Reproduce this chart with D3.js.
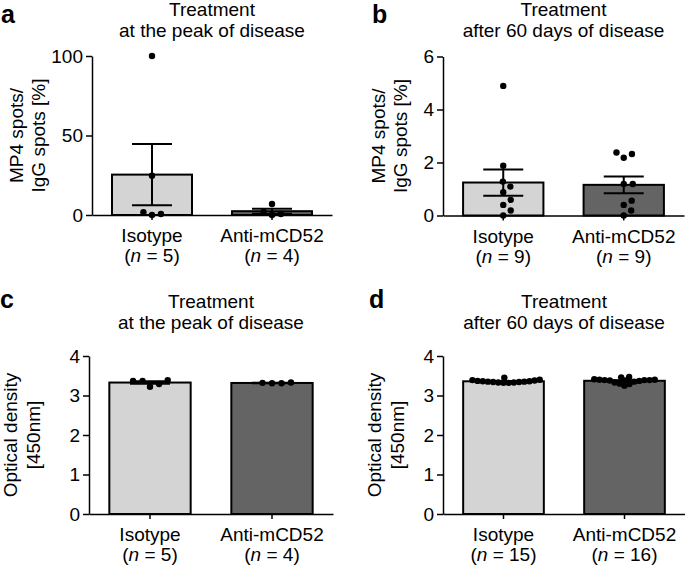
<!DOCTYPE html>
<html>
<head>
<meta charset="utf-8">
<script src="https://cdn.jsdelivr.net/npm/d3@7"></script>
<style>
    body { margin: 0; background: #fff; }
    svg { display: block; font-family: "Liberation Sans", Arial, sans-serif; }
</style>
</head>
<body>
<svg id="fig" width="685" height="568"></svg>
<script>
// groups and values
var groups = ["Isotype", "Anti-mCD52"];
var titleTop = "Treatment";
var titlePeak = "at the peak of disease";
var titleLate = "after 60 days of disease";
var spotsLabel = ["MP4 spots/", "IgG spots [%]"];
var odLabel = ["Optical density", "[450nm]"];

var spotsPeakIsotype = [100, 24.7, 1.7, 0, 0.6];
var spotsPeakAnti = [6.9, 2.1, 0, 0.6];
var spotsLateIsotype = [4.89, 1.88, 1.28, 1.09, 0.88, 0.59, 0.40, 0.19, 0];
var spotsLateAnti = [2.32, 2.18, 2.38, 1.19, 1.19, 0.56, 0.40, 0.19, 0];
var odPeakIsotype = [3.39, 3.37, 3.22, 3.29, 3.37];
var odPeakAnti = [3.32, 3.31, 3.31, 3.33];
var odLateIsotype = [3.45, 3.39, 3.37, 3.36, 3.35, 3.34, 3.33, 3.32, 3.32, 3.33, 3.34, 3.35, 3.36, 3.38, 3.40];
var odLateAnti = [3.40, 3.39, 3.39, 3.38, 3.37, 3.33, 3.29, 3.46, 3.25, 3.47, 3.30, 3.35, 3.38, 3.39, 3.40, 3.41];

var spotsPeakTicks = [0, 50, 100];
var spotsLateTicks = [0, 2, 4, 6];
var odTicks = [0, 1, 2, 3, 4];

var barColors = ["#d4d4d4", "#646464"];
var FONT = 19;
var svg = d3.select("#fig");

// simple beeswarm: lowest values at the centre, the rest pushed sideways
function swarm(values, y, dist) {
    var order = d3.range(values.length).sort(function (i, j) { return values[i] - values[j]; });
    var placed = [], xs = [];
    order.forEach(function (i) {
        var py = y(values[i]);
        var cands = [0];
        placed.forEach(function (p) {
            var dy = Math.abs(p.y - py);
            if (dy < dist) {
                var dx = Math.sqrt(dist * dist - dy * dy);
                cands.push(p.x + dx, p.x - dx);
            }
        });
        cands.sort(function (a, b) { return Math.abs(a) - Math.abs(b) || b - a; });
        var x = cands.find(function (c) {
            return placed.every(function (p) {
                return (p.x - c) * (p.x - c) + (p.y - py) * (p.y - py) >= dist * dist - 0.01;
            });
        });
        placed.push({x: x, y: py});
        xs[i] = x;
    });
    return xs;
}

function drawPanel(p) {
    var g = svg.append("g");

    var x = d3.scaleBand().domain(groups).range([p.x0, p.x1])
        .paddingInner(1 / 3).paddingOuter(1 / 6);
    var y = d3.scaleLinear().domain([0, p.max]).range([p.yBottom, p.yTop]);

    // panel letter and title
    g.append("text").attr("x", p.letterX).attr("y", p.letterY)
        .attr("font-size", 25).attr("font-weight", "bold").text(p.letter);

    var cx = (x(groups[0]) + x(groups[1]) + x.bandwidth()) / 2;
    g.append("text").attr("x", cx).attr("y", p.titleY).attr("text-anchor", "middle")
        .attr("font-size", FONT).text(titleTop);
    g.append("text").attr("x", cx).attr("y", p.titleY + 21).attr("text-anchor", "middle")
        .attr("font-size", FONT).text(p.title);

    // y label, two rotated lines
    var midY = (p.yTop + p.yBottom) / 2;
    p.ylabel.forEach(function (line, i) {
        g.append("text")
            .attr("transform", "translate(" + p.ylabX[i] + "," + midY + ") rotate(-90)")
            .attr("text-anchor", "middle").attr("font-size", FONT).text(line);
    });

    // bars
    var stats = p.series.map(function (vals, i) {
        var m = d3.mean(vals);
        var sem = d3.deviation(vals) / Math.sqrt(vals.length);
        return {group: groups[i], vals: vals, mean: m, sem: sem};
    });

    g.selectAll("rect.bar").data(stats).enter().append("rect")
        .attr("class", "bar")
        .attr("x", function (d) { return x(d.group); })
        .attr("width", x.bandwidth())
        .attr("y", function (d) { return y(d.mean); })
        .attr("height", function (d) { return y(0) - y(d.mean); })
        .attr("fill", function (d, i) { return barColors[i]; })
        .attr("stroke", "#000").attr("stroke-width", 2);

    // axes
    var yAxis = g.append("g").attr("transform", "translate(" + p.x0 + ",0)")
        .call(d3.axisLeft(y).tickValues(p.ticks).tickFormat(d3.format("d"))
            .tickSize(6).tickPadding(3).tickSizeOuter(0));
    var xAxis = g.append("g").attr("transform", "translate(0," + p.yBottom + ")")
        .call(d3.axisBottom(x).tickSize(5).tickSizeOuter(0).tickFormat(""));
    [yAxis, xAxis].forEach(function (ax) {
        ax.selectAll("path, line").attr("stroke", "#000").attr("stroke-width", 1.5);
        ax.selectAll("text").attr("font-size", FONT).attr("font-family", null).attr("fill", "#000");
    });

    // error bars (mean +/- SEM)
    var cap = 20;
    stats.forEach(function (d) {
        var c = x(d.group) + x.bandwidth() / 2;
        var eg = g.append("g").attr("stroke", "#000").attr("stroke-width", 2);
        eg.append("line").attr("x1", c).attr("x2", c)
            .attr("y1", y(d.mean + d.sem)).attr("y2", y(d.mean - d.sem));
        [d.mean + d.sem, d.mean - d.sem].forEach(function (v) {
            eg.append("line").attr("x1", c - cap).attr("x2", c + cap)
                .attr("y1", y(v)).attr("y2", y(v));
        });
    });

    // dots
    stats.forEach(function (d) {
        var c = x(d.group) + x.bandwidth() / 2;
        var offs = swarm(d.vals, y, p.spread);
        g.selectAll(null).data(d.vals).enter().append("circle")
            .attr("cx", function (v, i) { return c + offs[i]; })
            .attr("cy", function (v) { return y(v); })
            .attr("r", 3.2).attr("fill", "#000");
    });

    // group labels
    stats.forEach(function (d) {
        var c = x(d.group) + x.bandwidth() / 2;
        g.append("text").attr("x", c).attr("y", p.yBottom + 27)
            .attr("text-anchor", "middle").attr("font-size", FONT).text(d.group);
        var t = g.append("text").attr("x", c).attr("y", p.yBottom + 47)
            .attr("text-anchor", "middle").attr("font-size", FONT);
        t.append("tspan").text("(");
        t.append("tspan").attr("font-style", "italic").text("n");
        t.append("tspan").text(" = " + d.vals.length + ")");
    });
}

drawPanel({
    letter: "a", letterX: 1, letterY: 23, title: titlePeak, titleY: 16,
    ylabel: spotsLabel, ylabX: [23, 45],
    series: [spotsPeakIsotype, spotsPeakAnti], max: 100, ticks: spotsPeakTicks,
    x0: 92, x1: 332, yTop: 56, yBottom: 215, spread: 9
});
drawPanel({
    letter: "b", letterX: 372, letterY: 23, title: titleLate, titleY: 16,
    ylabel: spotsLabel, ylabX: [385, 407],
    series: [spotsLateIsotype, spotsLateAnti], max: 6, ticks: spotsLateTicks,
    x0: 443, x1: 684, yTop: 56.5, yBottom: 215.5, spread: 9
});
drawPanel({
    letter: "c", letterX: 0, letterY: 308, title: titlePeak, titleY: 308,
    ylabel: odLabel, ylabX: [17, 40],
    series: [odPeakIsotype, odPeakAnti], max: 4, ticks: odTicks,
    x0: 89, x1: 333, yTop: 356, yBottom: 514, spread: 9.5
});
drawPanel({
    letter: "d", letterX: 369, letterY: 308, title: titleLate, titleY: 308,
    ylabel: odLabel, ylabX: [381, 404],
    series: [odLateIsotype, odLateAnti], max: 4, ticks: odTicks,
    x0: 443, x1: 685, yTop: 356, yBottom: 514, spread: 5.2
});
</script>
</body>
</html>
